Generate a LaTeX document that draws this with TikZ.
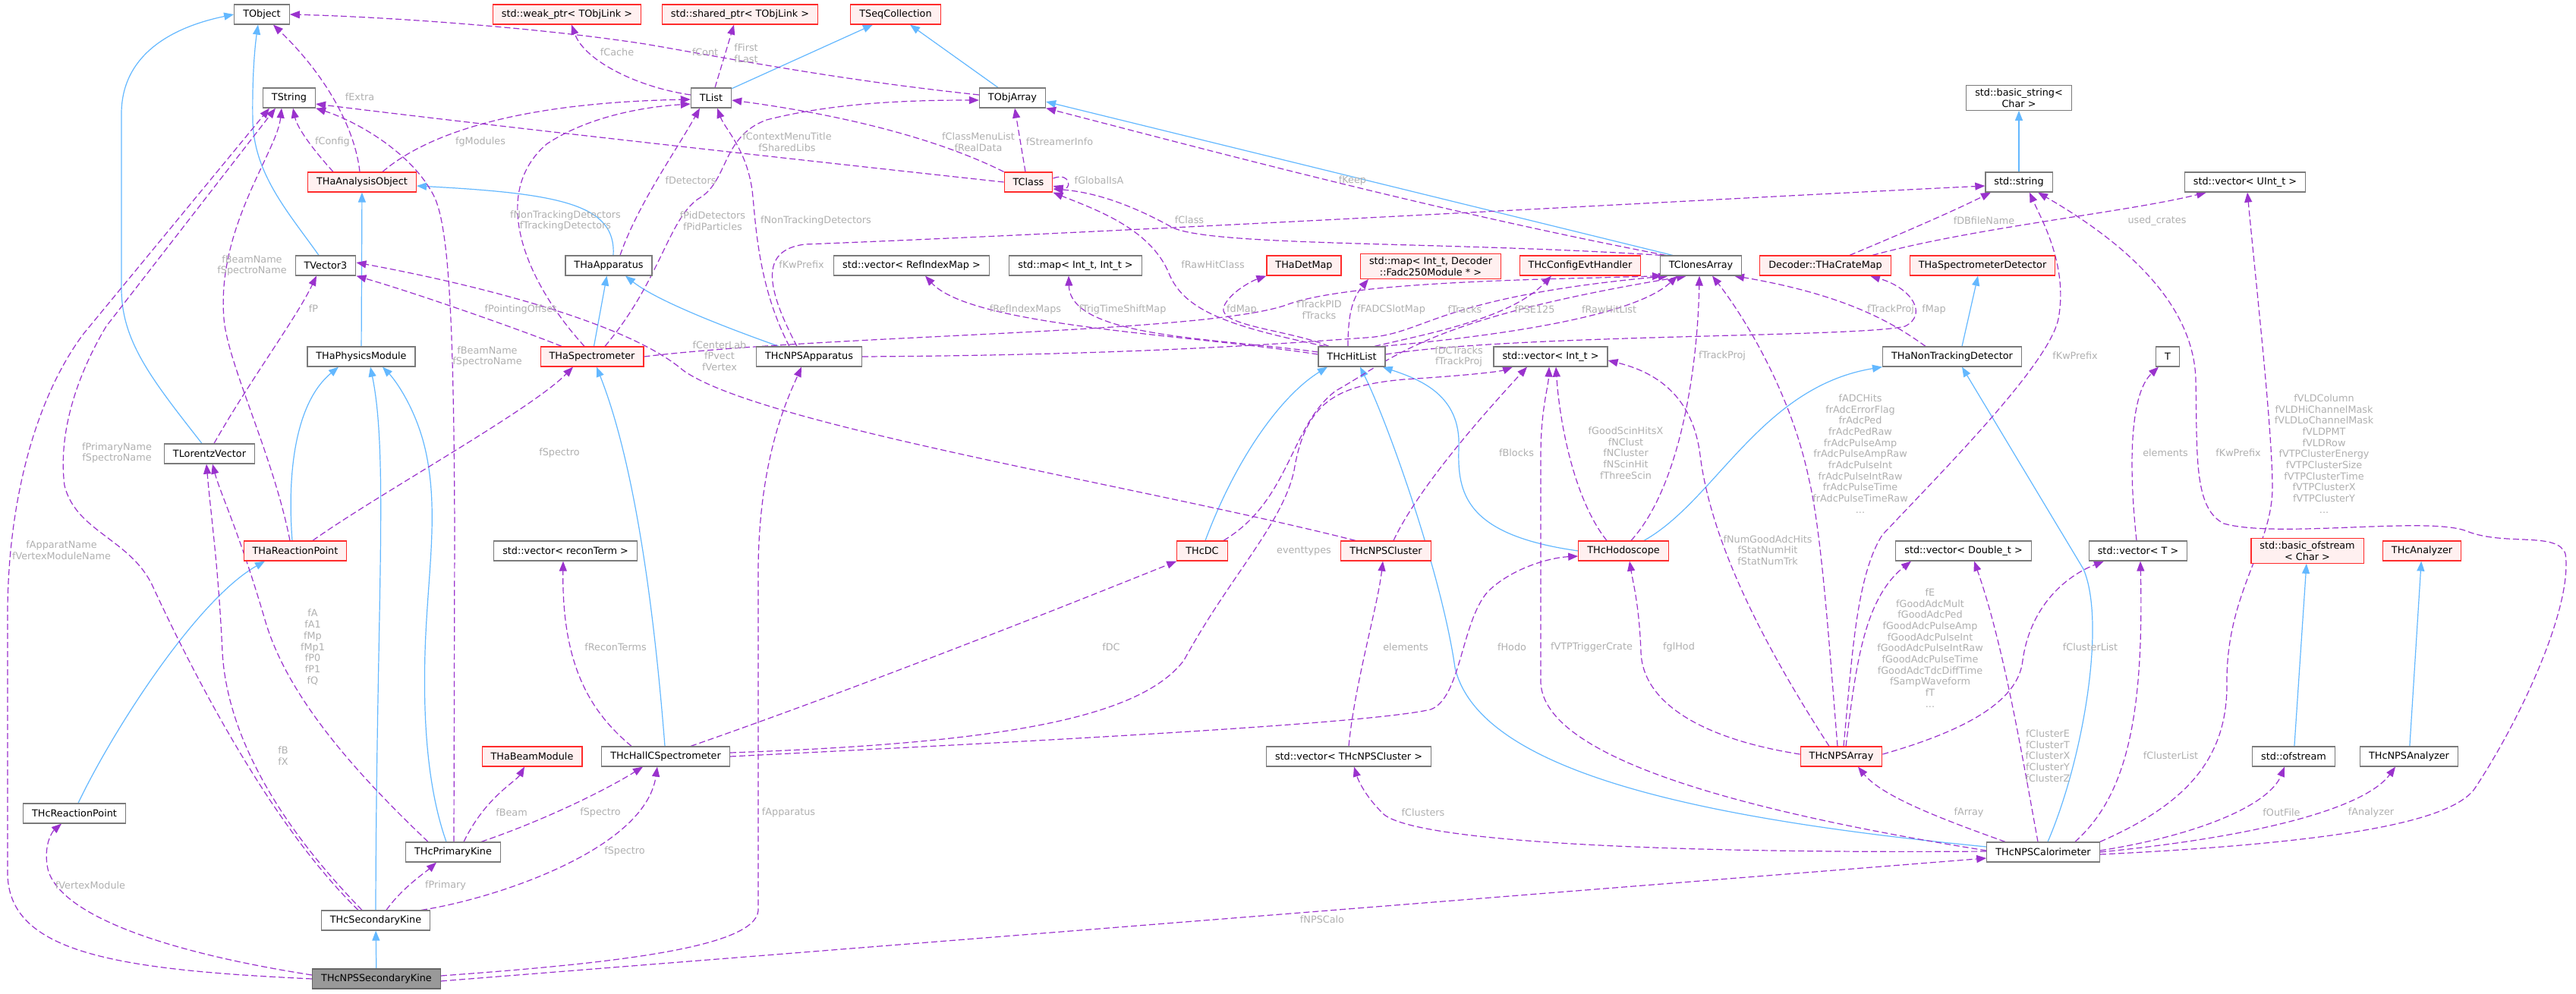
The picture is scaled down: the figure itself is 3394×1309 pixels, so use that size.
\documentclass[tikz,border=0pt]{standalone}
\usepackage{fontspec}
\setmainfont{DejaVu Sans}
\usetikzlibrary{arrows.meta}
\definecolor{edgeblue}{HTML}{63B8FF}
\definecolor{edgepurple}{HTML}{9A32CD}
\definecolor{lblgray}{HTML}{B0B0B0}
\definecolor{nodeborder}{HTML}{7A7A7A}
\definecolor{darkborder}{HTML}{666666}
\definecolor{redborder}{HTML}{FF2B2B}
\definecolor{redfill}{HTML}{FFF0F0}
\definecolor{grayfill}{HTML}{999999}
\pgfdeclarelayer{bg}
\pgfdeclarelayer{paper}
\pgfsetlayers{paper,bg,main}
\begin{document}
\begin{tikzpicture}[x=1pt,y=-1pt,
  every node/.style={font=\fontsize{12.8}{14.7}\selectfont},
  cls/.style={draw=nodeborder, fill=white, line width=1.2pt, minimum height=26pt, inner xsep=11.5pt, inner ysep=4pt, align=center},
  incomplete/.style={cls, draw=redborder, fill=redfill},
  focus/.style={cls, fill=grayfill, draw=darkborder},
  inh/.style={draw=edgeblue, line width=1.2pt, -{Triangle[length=13pt,width=10pt]}},
  usage/.style={draw=edgepurple, line width=1.2pt, dash pattern=on 8pt off 4pt, -{Triangle[length=13pt,width=10pt]}},
  lbl/.style={text=lblgray, align=center, inner sep=0pt}]
\begin{pgfonlayer}{paper}
\fill[white] (0,0) rectangle (3394,1309);
\end{pgfonlayer}
\useasboundingbox (0,0) rectangle (3394,1309);

% ---------------- nodes ----------------
\node[cls] (tobject) at (345,19) {TObject};
\node[incomplete] (weakptr) at (747,19) {std::weak\_ptr< TObjLink >};
\node[incomplete] (sharedptr) at (975,19) {std::shared\_ptr< TObjLink >};
\node[incomplete] (tseq) at (1180,19) {TSeqCollection};
\node[cls] (tstring) at (381,129) {TString};
\node[cls] (tlist) at (937,129) {TList};
\node[cls] (tobjarray) at (1334,129) {TObjArray};
\node[cls] (basicstring) at (2660,129) {std::basic\_string<\\ Char >};
\node[incomplete] (thaao) at (477,240) {THaAnalysisObject};
\node[incomplete] (tclass) at (1355,240) {TClass};
\node[cls] (stdstring) at (2660,240) {std::string};
\node[cls] (vecuint) at (2958,240) {std::vector< UInt\_t >};
\node[cls] (tvector3) at (429,350) {TVector3};
\node[cls] (thaapp) at (802,350) {THaApparatus};
\node[cls] (vecref) at (1201,350) {std::vector< RefIndexMap >};
\node[cls] (mapint) at (1417,350) {std::map< Int\_t, Int\_t >};
\node[incomplete] (thadetmap) at (1718,350) {THaDetMap};
\node[incomplete] (mapfadc) at (1885,351) {std::map< Int\_t, Decoder\\::Fadc250Module * >};
\node[incomplete] (configevt) at (2082,350) {THcConfigEvtHandler};
\node[cls] (tclones) at (2241,350) {TClonesArray};
\node[incomplete] (cratemap) at (2405,350) {Decoder::THaCrateMap};
\node[incomplete] (specdet) at (2612,350) {THaSpectrometerDetector};
\node[cls] (physmod) at (476,470) {THaPhysicsModule};
\node[incomplete] (thaspec) at (780,470) {THaSpectrometer};
\node[cls] (npsapp) at (1066,470) {THcNPSApparatus};
\node[cls] (hitlist) at (1781,470) {THcHitList};
\node[cls] (vecint) at (2043,470) {std::vector< Int\_t >};
\node[cls] (nontrack) at (2572,470) {THaNonTrackingDetector};
\node[cls] (tT) at (2856,470) {T};
\node[cls] (tlorentz) at (276,598) {TLorentzVector};
\node[incomplete] (thareact) at (389,726) {THaReactionPoint};
\node[cls] (vecrecon) at (745,726) {std::vector< reconTerm >};
\node[incomplete] (thcdc) at (1584,726) {THcDC};
\node[incomplete] (npscluster) at (1826,726) {THcNPSCluster};
\node[incomplete] (hodo) at (2139,726) {THcHodoscope};
\node[cls] (vecdouble) at (2587,726) {std::vector< Double\_t >};
\node[cls] (vecT) at (2817,726) {std::vector< T >};
\node[incomplete] (basicofstream) at (3040,726) {std::basic\_ofstream\\< Char >};
\node[incomplete] (thcanalyzer) at (3191,726) {THcAnalyzer};
\node[incomplete] (beammod) at (701,997) {THaBeamModule};
\node[cls] (hallc) at (877,997) {THcHallCSpectrometer};
\node[cls] (veccluster) at (1777,997) {std::vector< THcNPSCluster >};
\node[incomplete] (npsarray) at (2426,997) {THcNPSArray};
\node[cls] (ofstream) at (3022,997) {std::ofstream};
\node[cls] (npsanalyzer) at (3174,997) {THcNPSAnalyzer};
\node[cls] (thcreact) at (98,1072) {THcReactionPoint};
\node[cls] (primkine) at (597,1123) {THcPrimaryKine};
\node[cls] (calo) at (2692,1123) {THcNPSCalorimeter};
\node[cls] (seckine) at (495,1213) {THcSecondaryKine};
\node[focus] (npssec) at (496,1290) {THcNPSSecondaryKine};

% ---------------- labels ----------------
\node[lbl] (l1) at (813,69) {fCache};
\node[lbl] (l2) at (929,69) {fCont};
\node[lbl] (l3) at (983,70) {fFirst\\fLast};
\node[lbl] (l4) at (474,128) {fExtra};
\node[lbl] (l5) at (438,187) {fConfig};
\node[lbl] (l6) at (633,187) {fgModules};
\node[lbl] (l7) at (1037,187) {fContextMenuTitle\\fSharedLibs};
\node[lbl] (l8) at (1289,187) {fClassMenuList\\fRealData};
\node[lbl] (l9) at (1396,187) {fStreamerInfo};
\node[lbl] (l10) at (1448,238) {fGlobalIsA};
\node[lbl] (l11) at (1782,238) {fKeep};
\node[lbl] (l12) at (910,238) {fDetectors};
\node[lbl] (l13) at (745,291) {fNonTrackingDetectors\\fTrackingDetectors};
\node[lbl] (l14) at (939,291) {fPidDetectors\\fPidParticles};
\node[lbl] (l15) at (1075,291) {fNonTrackingDetectors};
\node[lbl] (l16) at (1567,290) {fClass};
\node[lbl] (l17) at (2614,291) {fDBfileName};
\node[lbl] (l18) at (2842,291) {used\_crates};
\node[lbl] (l19) at (332,350) {fBeamName\\fSpectroName};
\node[lbl] (l20) at (413,407) {fP};
\node[lbl] (l21) at (686,408) {fPointingOffset};
\node[lbl] (l22) at (1056,349) {fKwPrefix};
\node[lbl] (l23) at (1351,408) {fRefIndexMaps};
\node[lbl] (l24) at (1479,408) {fTrigTimeShiftMap};
\node[lbl] (l25) at (1598,349) {fRawHitClass};
\node[lbl] (l26) at (1636,408) {fdMap};
\node[lbl] (l27) at (1738,408) {fTrackPID\\fTracks};
\node[lbl] (l28) at (1833,408) {fFADCSlotMap};
\node[lbl] (l29) at (1930,408) {fTracks};
\node[lbl] (l30) at (2022,408) {fPSE125};
\node[lbl] (l31) at (2120,408) {fRawHitList};
\node[lbl] (l32) at (2491,408) {fTrackProj};
\node[lbl] (l33) at (2548,408) {fMap};
\node[lbl] (l34) at (948,469) {fCenterLab\\fPvect\\fVertex};
\node[lbl] (l35) at (642,470) {fBeamName\\fSpectroName};
\node[lbl] (l36) at (1922,470) {fDCTracks\\fTrackProj};
\node[lbl] (l37) at (2269,469) {fTrackProj};
\node[lbl] (l38) at (2734,469) {fKwPrefix};
\node[lbl] (l39) at (154,597) {fPrimaryName\\fSpectroName};
\node[lbl] (l40) at (737,597) {fSpectro};
\node[lbl] (l41) at (1998,597) {fBlocks};
\node[lbl] (l42) at (2142,597) {fGoodScinHitsX\\fNClust\\fNCluster\\fNScinHit\\fThreeScin};
\node[lbl] (l43) at (2451,598) {fADCHits\\frAdcErrorFlag\\frAdcPed\\frAdcPedRaw\\frAdcPulseAmp\\frAdcPulseAmpRaw\\frAdcPulseInt\\frAdcPulseIntRaw\\frAdcPulseTime\\frAdcPulseTimeRaw\\...};
\node[lbl] (l44) at (2853,597) {elements};
\node[lbl] (l45) at (2949,597) {fKwPrefix};
\node[lbl] (l46) at (3062,598) {fVLDColumn\\fVLDHiChannelMask\\fVLDLoChannelMask\\fVLDPMT\\fVLDRow\\fVTPClusterEnergy\\fVTPClusterSize\\fVTPClusterTime\\fVTPClusterX\\fVTPClusterY\\...};
\node[lbl] (l47) at (81,725) {fApparatName\\fVertexModuleName};
\node[lbl] (l48) at (1718,726) {eventtypes};
\node[lbl] (l49) at (2329,725) {fNumGoodAdcHits\\fStatNumHit\\fStatNumTrk};
\node[lbl] (l50) at (412,853) {fA\\fA1\\fMp\\fMp1\\fP0\\fP1\\fQ};
\node[lbl] (l51) at (811,853) {fReconTerms};
\node[lbl] (l52) at (1464,853) {fDC};
\node[lbl] (l53) at (1852,853) {elements};
\node[lbl] (l54) at (1992,853) {fHodo};
\node[lbl] (l55) at (2097,853) {fVTPTriggerCrate};
\node[lbl] (l56) at (2212,853) {fglHod};
\node[lbl] (l57) at (2543,854) {fE\\fGoodAdcMult\\fGoodAdcPed\\fGoodAdcPulseAmp\\fGoodAdcPulseInt\\fGoodAdcPulseIntRaw\\fGoodAdcPulseTime\\fGoodAdcTdcDiffTime\\fSampWaveform\\fT\\...};
\node[lbl] (l58) at (2754,853) {fClusterList};
\node[lbl] (l59) at (373,996) {fB\\fX};
\node[lbl] (l60) at (2698,996) {fClusterE\\fClusterT\\fClusterX\\fClusterY\\fClusterZ};
\node[lbl] (l61) at (2860,996) {fClusterList};
\node[lbl] (l62) at (674,1071) {fBeam};
\node[lbl] (l63) at (791,1071) {fSpectro};
\node[lbl] (l64) at (1039,1071) {fApparatus};
\node[lbl] (l65) at (1875,1071) {fClusters};
\node[lbl] (l66) at (2594,1071) {fArray};
\node[lbl] (l67) at (3006,1071) {fOutFile};
\node[lbl] (l68) at (3124,1071) {fAnalyzer};
\node[lbl] (l69) at (823,1122) {fSpectro};
\node[lbl] (l70) at (119,1167) {fVertexModule};
\node[lbl] (l71) at (587,1167) {fPrimary};
\node[lbl] (l72) at (1742,1212) {fNPSCalo};

\begin{pgfonlayer}{bg}
% ---------------- inheritance ----------------
\draw[inh] (tlist) -- (tseq);
\draw[inh] (tobjarray) -- (tseq);
\draw[inh] ([xshift=17pt]tclones.north west) -- ([yshift=-5pt]tobjarray.east);
\draw[inh] ([xshift=-9pt]tvector3.north) .. controls (380,280) and (335,230) .. (333,160) .. controls (332,100) and (336,60) .. ([xshift=-5pt]tobject.south);
\draw[inh] ([xshift=-10pt]tlorentz.north) .. controls (200,500) and (160,450) .. (160,380) -- (160,150) .. controls (160,70) and (230,35) .. (tobject.west);
\draw[inh] ([xshift=6pt]thaapp.north) .. controls (812,270) and (740,255) .. ([yshift=-5pt]thaao.east);
\draw[inh] (physmod) -- (thaao);
\draw[inh] (thaspec) -- (thaapp);
\draw[inh] ([xshift=-40pt]npsapp.north) .. controls (980,440) and (870,400) .. ([xshift=22pt]thaapp.south);
\draw[inh] (stdstring) -- (basicstring);
\draw[inh] ([xshift=-4pt]thareact.north) .. controls (378,620) and (390,530) .. ([xshift=-30pt]physmod.south);
\draw[inh] ([xshift=5pt]thcreact.north) .. controls (150,960) and (260,790) .. ([xshift=-40pt]thareact.south);
\draw[inh] ([xshift=-9pt]primkine.north) .. controls (560,1030) and (558,930) .. (560,860) .. controls (563,760) and (578,680) .. (562,600) .. controls (550,540) and (520,500) .. ([xshift=28pt]physmod.south);
\draw[inh] (seckine.north) .. controls (496,800) and (512,600) .. ([xshift=12pt]physmod.south);
\draw[inh] (npssec) -- (seckine);
\draw[inh] ([xshift=-1pt]hallc.north) .. controls (864,830) and (840,620) .. ([xshift=6pt]thaspec.south);
\draw[inh] ([xshift=4pt]thcdc.north) .. controls (1630,600) and (1690,520) .. ([xshift=-32pt]hitlist.south);
\draw[inh] (hodo.west) .. controls (1930,705) and (1920,650) .. (1922,590) .. controls (1925,520) and (1870,500) .. ([xshift=-4pt]hitlist.south east);
\draw[inh] ([xshift=27pt]hodo.north) .. controls (2260,660) and (2320,510) .. (nontrack.south west);
\draw[inh] ([xshift=13pt]nontrack.north) -- ([xshift=-6pt]specdet.south);
\draw[inh] ([yshift=7pt]calo.west) .. controls (2250,1080) and (1950,1020) .. (1917,880) .. controls (1900,760) and (1830,560) .. ([xshift=11pt]hitlist.south);
\draw[inh] ([xshift=6pt]calo.north) .. controls (2745,1000) and (2775,820) .. (2745,750) -- ([xshift=13pt]nontrack.south);
\draw[inh] (ofstream) -- (basicofstream);
\draw[inh] (npsanalyzer) -- (thcanalyzer);

% ---------------- usage ----------------
\draw[usage] ([yshift=4pt]tobjarray.west) .. controls (1100,105) and (950,75) .. (850,58) .. controls (700,35) and (500,22) .. (tobject.east);
\draw[usage] ([yshift=4pt]tlist.west) .. controls (840,115) and (770,80) .. ([xshift=6pt]weakptr.south);
\draw[usage] ([xshift=5pt]tlist.north) -- ([xshift=-8pt]sharedptr.south);
\draw[usage] ([xshift=-3pt]thaao.north) .. controls (468,170) and (430,100) .. ([xshift=15pt]tobject.south);
\draw[usage] ([xshift=-38pt]thaao.north) .. controls (415,200) and (392,170) .. ([xshift=5pt]tstring.south);
\draw[usage] ([xshift=27pt]thaao.north) .. controls (570,170) and (700,135) .. ([yshift=-2pt]tlist.west);
\draw[usage] (tclass.north west) .. controls (1230,180) and (1100,150) .. ([yshift=-3pt]tlist.east);
\draw[usage] ([xshift=-4pt]tclass.north) -- ([xshift=3pt]tobjarray.south);
\draw[usage] (tclass.west) .. controls (1000,205) and (600,160) .. ([yshift=-8pt]tstring.east);
\draw[usage] ([yshift=5pt]tclass.east) .. controls (1412,226) and (1412,252) .. ([yshift=-5pt]tclass.east);
\draw[usage] ([xshift=2pt]tclones.north west) .. controls (1900,318) and (1600,325) .. (1545,300) .. controls (1500,275) and (1450,254) .. ([yshift=-9pt]tclass.east);
\draw[usage] ([xshift=-35pt]hitlist.north) .. controls (1620,430) and (1560,410) .. (1540,360) .. controls (1515,300) and (1440,275) .. (tclass.south east);
\draw[usage] ([xshift=8pt]tclones.north west) .. controls (1900,280) and (1600,200) .. (tobjarray.south east);
\draw[usage] ([xshift=15pt]thaapp.north) .. controls (840,270) and (890,200) .. ([xshift=-15pt]tlist.south);
\draw[usage] ([xshift=-10pt]thaspec.north) .. controls (700,380) and (640,260) .. (720,190) .. controls (780,150) and (860,140) .. ([yshift=-8pt]tlist.west);
\draw[usage] ([xshift=17pt]thaspec.north) .. controls (870,370) and (880,290) .. (920,262) .. controls (960,240) and (950,180) .. (1010,158) .. controls (1100,135) and (1200,132) .. ([yshift=-3pt]tobjarray.west);
\draw[usage] ([xshift=-26pt]npsapp.north) .. controls (1000,380) and (996,300) .. (992,260) .. controls (987,200) and (955,170) .. ([xshift=8pt]tlist.south);
\draw[usage] ([xshift=-16pt]npsapp.north) .. controls (1010,380) and (1000,330) .. (1060,322) .. controls (1500,305) and (2300,260) .. ([yshift=-5pt]stdstring.west);
\draw[usage] ([xshift=-7pt]thareact.north) .. controls (360,600) and (300,480) .. (295,420) .. controls (285,300) and (365,200) .. ([xshift=-10pt]tstring.south);
\draw[usage] ([xshift=23pt]thareact.north) .. controls (500,650) and (700,540) .. ([xshift=-25pt]thaspec.south);
\draw[usage] ([xshift=6pt]tlorentz.north) .. controls (330,500) and (390,420) .. ([xshift=-12pt]tvector3.south);
\draw[usage] ([xshift=-40pt]thaspec.north) .. controls (700,440) and (560,390) .. (tvector3.south east);
\draw[usage] ([xshift=-40pt]npscluster.north) .. controls (1500,640) and (1000,560) .. (900,488) .. controls (820,420) and (600,370) .. ([yshift=4pt]tvector3.east);
\draw[usage] (thaspec.east) .. controls (1100,440) and (1600,440) .. (1700,400) .. controls (1790,370) and (2050,368) .. ([xshift=-51pt]tclones.south);
\draw[usage] (npsapp.east) .. controls (1500,468) and (1700,452) .. (1800,445) .. controls (1880,440) and (1890,392) .. ([xshift=-43pt]tclones.south);
\draw[usage] ([yshift=3pt]hitlist.west) .. controls (1560,440) and (1280,430) .. ([xshift=18pt]vecref.south);
\draw[usage] ([yshift=6pt]hitlist.west) .. controls (1600,445) and (1410,445) .. ([xshift=-9pt]mapint.south);
\draw[usage] ([xshift=-30pt]hitlist.north) .. controls (1700,435) and (1605,430) .. (1612,405) .. controls (1620,385) and (1650,370) .. (thadetmap.south west);
\draw[usage] ([xshift=-5pt]hitlist.north) .. controls (1776,420) and (1780,395) .. ([xshift=-82pt]mapfadc.south);
\draw[usage] ([xshift=30pt]hitlist.north) .. controls (1880,440) and (1990,420) .. ([xshift=-38pt]configevt.south);
\draw[usage] ([xshift=40pt]hitlist.north) .. controls (1950,445) and (2150,420) .. ([xshift=-31pt]tclones.south);
\draw[usage] ([yshift=3pt]hitlist.east) .. controls (2000,440) and (2450,445) .. (2510,430) .. controls (2540,415) and (2520,380) .. ([xshift=59pt]cratemap.south);
\draw[usage] ([xshift=-35pt]nontrack.north) .. controls (2500,430) and (2440,390) .. ([xshift=44pt]tclones.south);
\draw[usage] ([xshift=10pt]hodo.north) .. controls (2215,640) and (2237,480) .. ([xshift=-2pt]tclones.south);
\draw[usage] ([xshift=-5pt]npsarray.north) .. controls (2410,850) and (2400,700) .. (2383,630) .. controls (2360,520) and (2300,420) .. ([xshift=15pt]tclones.south);
\draw[usage] ([xshift=32pt]cratemap.north) .. controls (2500,310) and (2570,280) .. ([xshift=-37pt]stdstring.south);
\draw[usage] ([xshift=62pt]cratemap.north) .. controls (2600,300) and (2800,280) .. ([xshift=-51pt]vecuint.south);
\draw[usage] ([xshift=28pt]thcdc.north) .. controls (1700,660) and (1700,560) .. (1760,515) .. controls (1840,470) and (1880,420) .. ([xshift=-19pt]tclones.south);
\draw[usage] ([yshift=5pt]hallc.east) .. controls (1300,980) and (1500,950) .. (1560,870) .. controls (1620,760) and (1690,690) .. (1705,620) .. controls (1720,530) and (1760,508) .. (1850,500) .. controls (1930,495) and (1975,490) .. ([xshift=-50pt]vecint.south);
\draw[usage] ([xshift=33pt]hallc.north) .. controls (1150,900) and (1450,780) .. (thcdc.south west);
\draw[usage] (hallc.east) .. controls (1300,980) and (1800,955) .. (1885,935) .. controls (1925,920) and (1925,820) .. (1960,780) .. controls (1990,750) and (2040,735) .. ([yshift=-7pt]hodo.west);
\draw[usage] ([xshift=-45pt]hallc.north) .. controls (780,940) and (740,880) .. ([xshift=-3pt]vecrecon.south);
\draw[usage] ([xshift=14pt]primkine.north) .. controls (640,1050) and (680,1030) .. ([xshift=-10pt]beammod.south);
\draw[usage] ([xshift=37pt]primkine.north) .. controls (720,1080) and (800,1040) .. ([xshift=-30pt]hallc.south);
\draw[usage] ([xshift=-33pt]primkine.north) .. controls (470,1020) and (380,920) .. (350,820) .. controls (315,700) and (290,650) .. ([xshift=4pt]tlorentz.south);
\draw[usage] ([xshift=1pt]primkine.north) -- (599,700) .. controls (598,400) and (590,290) .. (570,255) .. controls (540,200) and (470,160) .. (tstring.south east);
\draw[usage] ([xshift=14pt]seckine.north) .. controls (530,1170) and (560,1150) .. ([xshift=-22pt]primkine.south);
\draw[usage] ([xshift=60pt]seckine.north) .. controls (650,1185) and (850,1120) .. ([xshift=-11pt]hallc.south);
\draw[usage] ([xshift=-18pt]seckine.north) .. controls (380,1100) and (300,980) .. (293,860) .. controls (288,750) and (278,680) .. ([xshift=-4pt]tlorentz.south);
\draw[usage] ([xshift=-23pt]seckine.north) .. controls (360,1090) and (260,900) .. (200,770) .. controls (170,710) and (100,700) .. (85,640) .. controls (75,560) and (110,480) .. (140,430) -- ([xshift=-18pt]tstring.south);
\draw[usage] (npssec.west) .. controls (150,1278) and (10,1255) .. (10,1150) -- (10,800) .. controls (12,650) and (50,520) .. (110,440) -- ([xshift=-26pt]tstring.south);
\draw[usage] ([yshift=5pt]npssec.west) .. controls (200,1252) and (70,1200) .. (62,1140) .. controls (58,1110) and (70,1095) .. ([xshift=-17pt]thcreact.south);
\draw[usage] ([yshift=-3pt]npssec.east) -- ([yshift=-8pt]calo.west);
\draw[usage] ([yshift=4pt]npssec.east) .. controls (800,1270) and (995,1250) .. (999,1200) -- (999,750) .. controls (1000,600) and (1040,520) .. ([xshift=-10pt]npsapp.south);
\draw[usage] ([xshift=10pt]npscluster.north) .. controls (1870,640) and (1960,540) .. ([xshift=-31pt]vecint.south);
\draw[usage] ([xshift=-22pt]hodo.north) .. controls (2075,660) and (2055,560) .. ([xshift=7pt]vecint.south);
\draw[usage] ([yshift=2pt]calo.west) .. controls (2300,1070) and (2035,1000) .. (2030,900) -- (2030,600) .. controls (2030,540) and (2040,510) .. ([xshift=-2pt]vecint.south);
\draw[usage] ([xshift=-16pt]npsarray.north) .. controls (2330,860) and (2255,720) .. (2240,600) .. controls (2230,520) and (2180,490) .. ([yshift=-5pt]vecint.east);
\draw[usage] ([yshift=3pt]npsarray.west) .. controls (2250,975) and (2165,930) .. (2162,860) .. controls (2160,800) and (2152,770) .. ([xshift=8pt]hodo.south);
\draw[usage] ([xshift=3pt]npsarray.north) .. controls (2440,870) and (2445,760) .. (2480,705) .. controls (2560,620) and (2700,480) .. (2712,420) .. controls (2725,350) and (2690,290) .. ([xshift=14pt]stdstring.south);
\draw[usage] ([xshift=6pt]npsarray.north) .. controls (2445,880) and (2455,790) .. ([xshift=-69pt]vecdouble.south);
\draw[usage] ([yshift=3pt]npsarray.east) .. controls (2600,960) and (2660,920) .. (2665,870) .. controls (2675,800) and (2720,760) .. ([xshift=-45pt]vecT.south);
\draw[usage] ([xshift=-2pt]vecT.north) .. controls (2805,620) and (2805,520) .. ([xshift=-12pt]tT.south);
\draw[usage] (veccluster.north) .. controls (1785,900) and (1815,800) .. ([xshift=-4pt]npscluster.south);
\draw[usage] ([xshift=-50pt]calo.north) .. controls (2560,1080) and (2480,1050) .. ([xshift=22pt]npsarray.south);
\draw[usage] ([yshift=1pt]calo.west) .. controls (2200,1125) and (1850,1110) .. (1820,1070) .. controls (1800,1050) and (1790,1030) .. ([xshift=7pt]veccluster.south);
\draw[usage] ([xshift=-7pt]calo.north) .. controls (2665,1000) and (2640,850) .. ([xshift=14pt]vecdouble.south);
\draw[usage] ([xshift=42pt]calo.north) .. controls (2800,1050) and (2825,950) .. ([xshift=3pt]vecT.south);
\draw[usage] ([yshift=2pt]calo.east) .. controls (2900,1100) and (2990,1060) .. ([xshift=-12pt]ofstream.south);
\draw[usage] (calo.east) .. controls (3000,1100) and (3120,1060) .. ([xshift=-18pt]npsanalyzer.south);
\draw[usage] ([yshift=-3pt]calo.east) .. controls (3100,1110) and (3230,1080) .. (3260,1040) .. controls (3320,950) and (3390,800) .. (3380,730) .. controls (3370,700) and (3300,720) .. (3250,700) .. controls (3200,680) and (3000,710) .. (2930,690) .. controls (2890,670) and (2895,600) .. (2893,500) .. controls (2890,400) and (2800,320) .. ([xshift=25pt]stdstring.south);
\draw[usage] (calo.north east) .. controls (2880,1060) and (2935,1000) .. (2934,900) .. controls (2933,780) and (2995,720) .. (2994,640) .. controls (2993,560) and (2975,400) .. ([xshift=3pt]vecuint.south);
\end{pgfonlayer}
\end{tikzpicture}
\end{document}
